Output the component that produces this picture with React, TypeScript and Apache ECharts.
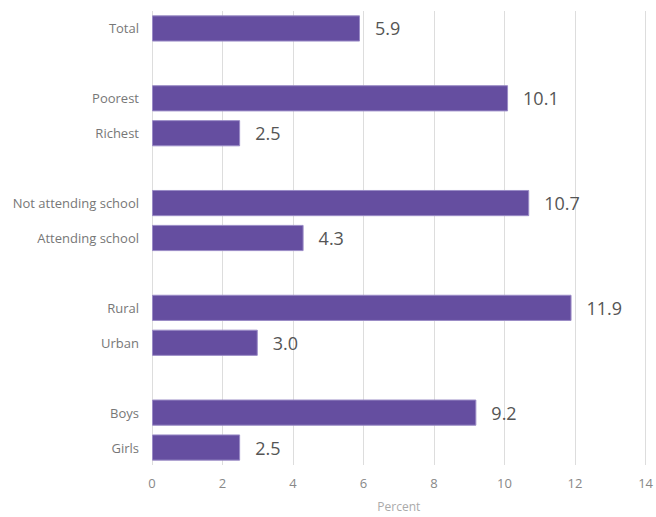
import React, { useEffect, useRef } from "react";
import * as echarts from "echarts";

const categories = [
  "Total",
  "",
  "Poorest",
  "Richest",
  " ",
  "Not attending school",
  "Attending school",
  "  ",
  "Rural",
  "Urban",
  "   ",
  "Boys",
  "Girls",
];
const values: (number | string)[] = [5.9, "-", 10.1, 2.5, "-", 10.7, 4.3, "-", 11.9, 3.0, "-", 9.2, 2.5];
const xTicks = { min: 0, max: 14, interval: 2 };
const xAxisTitle = "Percent";

export default function App() {
  const ref = useRef<HTMLDivElement>(null);
  useEffect(() => {
    if (!ref.current) return;
    const chart = echarts.init(ref.current, undefined, { renderer: "svg" });
    const font = "'Open Sans', 'Noto Sans', sans-serif";
    chart.setOption({
      animation: false,
      textStyle: { fontFamily: font },
      grid: { left: 152, right: 9, top: 11, bottom: 47, containLabel: false },
      xAxis: {
        type: "value",
        min: xTicks.min,
        max: xTicks.max,
        interval: xTicks.interval,
        name: xAxisTitle,
        nameLocation: "middle",
        nameGap: 35,
        nameTextStyle: { color: "#aaaaaa", fontSize: 12, fontFamily: font },
        axisLine: { show: false },
        axisTick: { show: false },
        axisLabel: { color: "#888888", fontSize: 13, margin: 11, fontFamily: font },
        splitLine: { show: true, lineStyle: { color: "#dddddd", width: 1 } },
      },
      yAxis: {
        type: "category",
        data: categories,
        inverse: true,
        axisLine: { show: false },
        axisTick: { show: false },
        axisLabel: { color: "#777777", fontSize: 13, margin: 13, fontFamily: font },
        splitLine: { show: false },
      },
      series: [
        {
          type: "bar",
          data: values,
          barCategoryGap: "25%",
          itemStyle: { color: "#654ea0", borderColor: "#9a8bc6", borderWidth: 1 },
          label: {
            show: true,
            position: "right",
            distance: 15,
            color: "#555555",
            fontSize: 18,
            fontFamily: font,
            formatter: (p: any) => (typeof p.value === "number" ? p.value.toFixed(1) : ""),
          },
        },
      ],
    });
    return () => chart.dispose();
  }, []);
  return <div ref={ref} style={{ width: 656, height: 517, position: "absolute", left: 0, top: 0 }} />;
}
